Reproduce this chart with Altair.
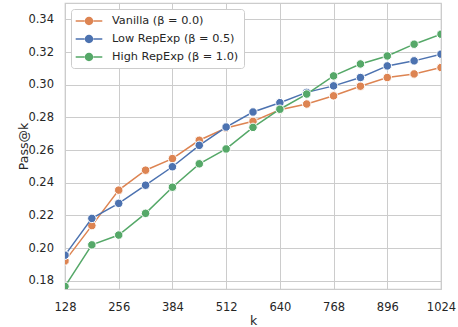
import altair as alt
import pandas as pd

ks = [128, 192, 256, 320, 384, 448, 512, 576, 640, 704, 768, 832, 896, 960, 1024]
series_names = ["Vanilla (β = 0.0)", "Low RepExp (β = 0.5)", "High RepExp (β = 1.0)"]
vanilla = [0.1922, 0.2138, 0.2355, 0.2477, 0.2548, 0.2660, 0.2735, 0.2776, 0.2847, 0.2882, 0.2932, 0.2991, 0.3044, 0.3066, 0.3105]
low = [0.1957, 0.2182, 0.2274, 0.2385, 0.2498, 0.2629, 0.2741, 0.2833, 0.2890, 0.2953, 0.2993, 0.3044, 0.3115, 0.3146, 0.3187]
high = [0.1766, 0.2020, 0.2080, 0.2213, 0.2373, 0.2516, 0.2607, 0.2739, 0.2850, 0.2943, 0.3054, 0.3127, 0.3176, 0.3248, 0.3309]
colors = ["#dd8452", "#4c72b0", "#55a868"]
x_ticks = [128, 256, 384, 512, 640, 768, 896, 1024]
y_ticks = [0.18, 0.20, 0.22, 0.24, 0.26, 0.28, 0.30, 0.32, 0.34]

rows = []
for name, vals in zip(series_names, [vanilla, low, high]):
    for k, v in zip(ks, vals):
        rows.append({"k": k, "pass": v, "series": name})
df = pd.DataFrame(rows)

xenc = alt.X("k:Q", scale=alt.Scale(domain=[128, 1024], nice=False, zero=False),
             axis=alt.Axis(values=x_ticks, title="k", format="d",
                           titleBaseline="alphabetic", titleY=35))
yenc = alt.Y("pass:Q", scale=alt.Scale(domain=[0.175, 0.35], nice=False, zero=False),
             axis=alt.Axis(values=y_ticks, title="Pass@k", format=".2f",
                           titleBaseline="alphabetic", titleX=-37.5))

# line-with-marker legend glyph (unit space scaled by sqrt(size)/2)
legend_symbol = ("M-1.9,-0.11H-0.62V0.11H-1.9Z M0.62,-0.11H1.9V0.11H0.62Z "
                 "M0.6,0A0.6,0.6 0 1,1 -0.6,0A0.6,0.6 0 1,1 0.6,0Z")

color_scale = alt.Scale(domain=series_names, range=colors)

layers = []
for i, name in enumerate(series_names):
    base = alt.Chart(df).transform_filter(alt.datum.series == name)
    if i == 0:
        cenc = alt.Color("series:N", scale=color_scale, sort=series_names,
                         legend=alt.Legend(title=None, orient="none", legendX=6, legendY=6,
                                           symbolType=legend_symbol, symbolSize=196,
                                           symbolStrokeWidth=0, symbolOpacity=1))
    else:
        cenc = alt.Color("series:N", scale=color_scale, sort=series_names)
    line = base.mark_line(strokeWidth=1.5, clip=True).encode(x=xenc, y=yenc, color=cenc)
    pts = base.mark_circle(size=72, opacity=1, stroke="white", strokeWidth=1, clip=True).encode(
        x=xenc, y=yenc, color=cenc)
    layers += [line, pts]

chart = alt.layer(*layers).properties(
    width=376, height=286,
    autosize=alt.AutoSizeParams(type="none"),
    padding={"left": 65, "top": 3, "right": 17, "bottom": 38},
).configure(
    font="DejaVu Sans",
).configure_view(
    stroke="#cccccc", strokeWidth=1.25,
).configure_axis(
    grid=True, gridColor="#cccccc", gridWidth=1,
    domain=False, ticks=False, labelFlush=False, labelOverlap=False,
    labelFont="DejaVu Sans", labelFontSize=11.5, labelColor="#262626",
    titleFont="DejaVu Sans", titleFontSize=12.5, titleColor="#262626", titleFontWeight="normal",
).configure_axisY(
    labelPadding=11.5,
).configure_axisX(
    labelPadding=12.5,
).configure_legend(
    labelFont="DejaVu Sans", labelFontSize=11.3, labelColor="#262626",
    strokeColor="#cccccc", fillColor="white", padding=5, cornerRadius=3,
    rowPadding=5, labelOffset=16, symbolOffset=6,
)

chart.save("out.html", embed_options={"renderer": "svg", "actions": False})
